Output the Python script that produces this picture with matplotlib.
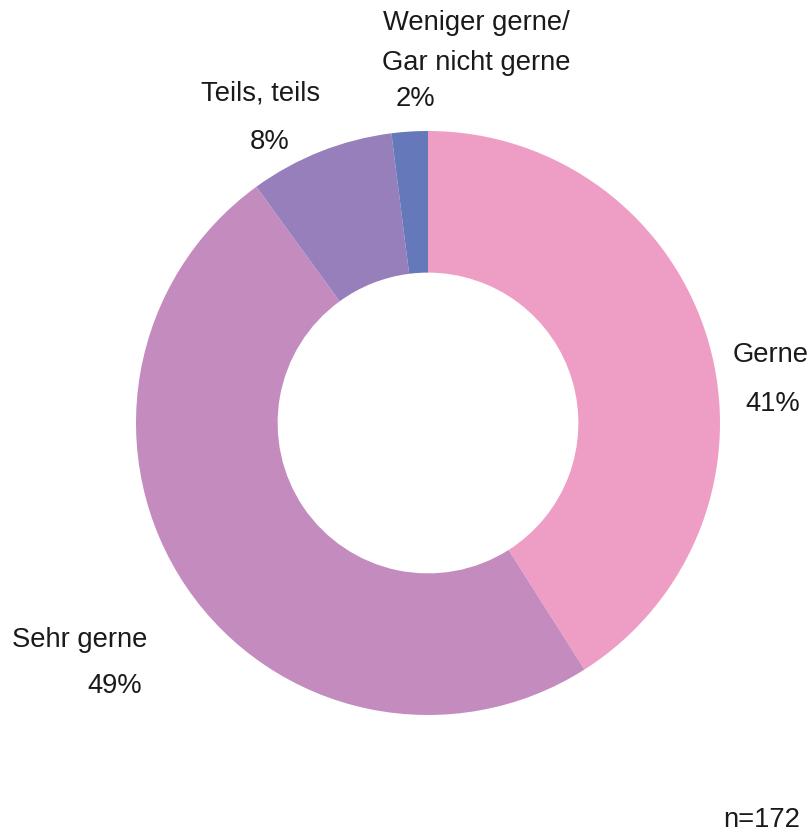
import matplotlib.pyplot as plt

labels = ['Gerne', 'Sehr gerne', 'Teils, teils', 'Weniger gerne/\nGar nicht gerne']
shares = [41, 49, 8, 2]
colors = ['#EE9EC5', '#C48BBE', '#967FBB', '#6478BA']
n_total = 172

plt.rcParams['font.family'] = ['Liberation Sans', 'DejaVu Sans']

fig = plt.figure(figsize=(8.1, 8.32), dpi=100)
ax = fig.add_axes([0, 0, 1, 1])

ax.pie(shares, colors=colors, startangle=90, counterclock=False,
       radius=1, wedgeprops=dict(width=0.485, linewidth=0))

# ring centred at (428, 423) px with a 292 px radius
cx, cy, r = 428, 423, 292
ax.set_xlim(-cx / r, (810 - cx) / r)
ax.set_ylim(-(832 - cy) / r, cy / r)
ax.set_aspect('equal')
ax.axis('off')


def px(x, y):
    return (x - cx) / r, (cy - y) / r


# name and percentage positions in pixels
name_pos = [(771, 355), (80, 640), (261, 93), (476, 43)]
pct_pos = [(773, 404), (115, 686), (270, 142), (415, 99)]

for name, share, (nx, ny), (qx, qy) in zip(labels, shares, name_pos, pct_pos):
    ax.text(*px(nx, ny), name, ha='center', va='center', fontsize=19.7,
            color='#1a1a1a', linespacing=1.75)
    ax.text(*px(qx, qy), f'{share}%', ha='center', va='center', fontsize=19.7,
            color='#1a1a1a')

ax.text(*px(800, 820), f'n={n_total}', ha='right', va='center', fontsize=19.7,
        color='#1a1a1a')

fig.savefig('out.png', dpi=100)
